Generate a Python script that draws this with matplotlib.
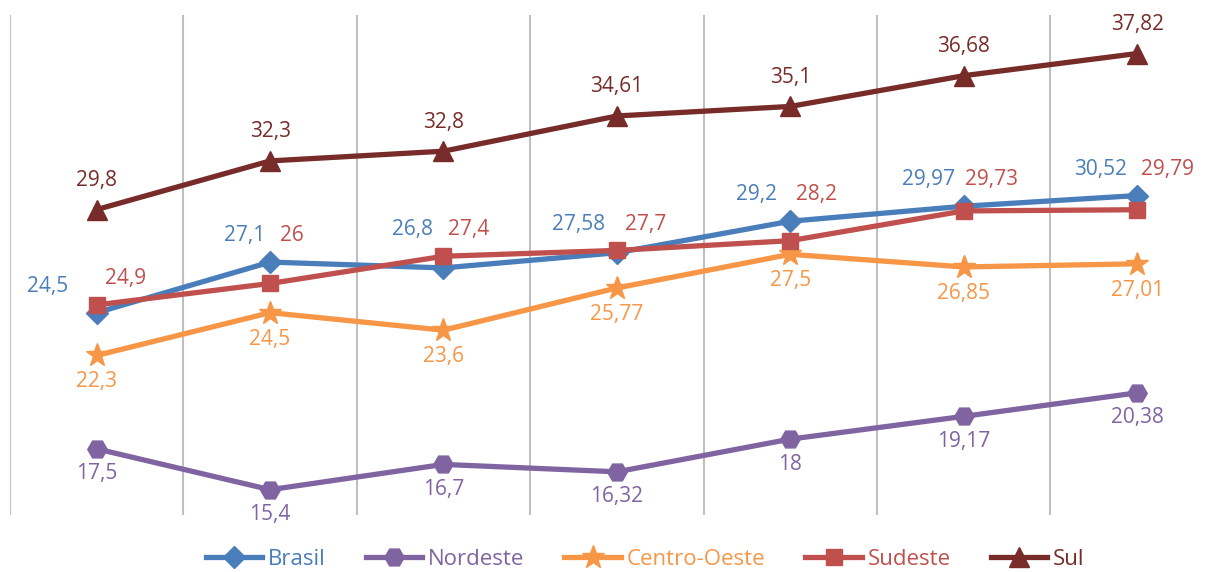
import numpy as np
import matplotlib.pyplot as plt

plt.rcParams['font.family'] = ['Open Sans', 'DejaVu Sans']

# values per region, 7 periods
brasil = [24.5, 27.1, 26.8, 27.58, 29.2, 29.97, 30.52]
nordeste = [17.5, 15.4, 16.7, 16.32, 18, 19.17, 20.38]
centro_oeste = [22.3, 24.5, 23.6, 25.77, 27.5, 26.85, 27.01]
sudeste = [24.9, 26, 27.4, 27.7, 28.2, 29.73, 29.79]
sul = [29.8, 32.3, 32.8, 34.61, 35.1, 36.68, 37.82]
names = ['Brasil', 'Nordeste', 'Centro-Oeste', 'Sudeste', 'Sul']

x = np.arange(len(brasil))

def fmt(v):
    s = ('%.2f' % v).rstrip('0').rstrip('.')
    return s.replace('.', ',')

fig = plt.figure(figsize=(12.12, 5.72), dpi=100)
ax = fig.add_axes([10 / 1212, 57 / 572, 7 * 173.4 / 1212, 500 / 572])

c_bra = '#4a7ebb'
c_nor = '#8064a2'
c_co = '#f79646'
c_sud = '#c0504d'
c_sul = '#772c2a'

lw = 3.8
ax.plot(x, brasil, color=c_bra, lw=lw, marker='D', ms=11, label=names[0])
ax.plot(x, nordeste, color=c_nor, lw=lw, marker='H', ms=14, label=names[1])
ax.plot(x, centro_oeste, color=c_co, lw=lw, marker='*', ms=17, label=names[2])
ax.plot(x, sudeste, color=c_sud, lw=lw, marker='s', ms=12, label=names[3])
ax.plot(x, sul, color=c_sul, lw=lw, marker='^', ms=14, label=names[4])

fs = 15
# Brasil / Sudeste labels share a row above the higher of the two points
bra_dx = [-49, -25, -31, -38, -34, -35, -37]
bra_dy = [13, 19, 19, 19, 19, 19, 19]
sud_dx = [29, 22, 25, 29, 26, 28, 30]
for i in x:
    top = max(brasil[i], sudeste[i])
    ax.annotate(fmt(brasil[i]), (i, top), xytext=(bra_dx[i] * 0.72, bra_dy[i]),
                textcoords='offset points', ha='center', va='center',
                color=c_bra, fontsize=fs)
    ax.annotate(fmt(sudeste[i]), (i, top), xytext=(sud_dx[i] * 0.72, 19),
                textcoords='offset points', ha='center', va='center',
                color=c_sud, fontsize=fs)
    ax.annotate(fmt(sul[i]), (i, sul[i]), xytext=(0, 21),
                textcoords='offset points', ha='center', va='center',
                color=c_sul, fontsize=fs)
    ax.annotate(fmt(centro_oeste[i]), (i, centro_oeste[i]), xytext=(0, -19),
                textcoords='offset points', ha='center', va='center',
                color=c_co, fontsize=fs)
    ax.annotate(fmt(nordeste[i]), (i, nordeste[i]), xytext=(0, -18),
                textcoords='offset points', ha='center', va='center',
                color=c_nor, fontsize=fs)

ax.set_xlim(-0.5, 6.5)
ax.set_ylim(14.1, 39.8)
ax.set_xticks(np.arange(-0.5, 7, 1))
ax.set_yticks([])
ax.tick_params(axis='x', length=0, labelbottom=False)
ax.grid(axis='x', color='#bfbfbf', lw=1.5)
for sp in ax.spines.values():
    sp.set_visible(False)

fig.legend(loc='center', bbox_to_anchor=(645 / 1212, 0.022), ncol=5,
           frameon=False, fontsize=16, handlelength=2.55, handletextpad=0.25,
           columnspacing=1.8, labelcolor='linecolor', borderpad=0.2)

fig.savefig('out.png', dpi=100)
